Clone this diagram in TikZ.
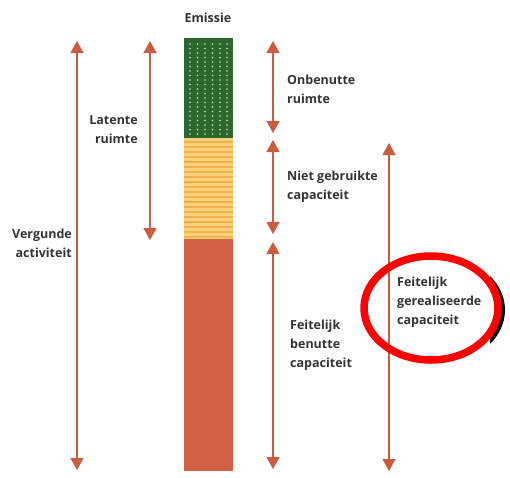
\documentclass[tikz,border=0pt]{standalone}
\usepackage{fontspec}
\setmainfont{Open Sans}
\usetikzlibrary{arrows.meta}
\definecolor{arrowred}{rgb}{0.80,0.36,0.25}
\definecolor{bargreen}{rgb}{0.18,0.40,0.19}
\definecolor{dotgreen}{rgb}{0.80,0.90,0.76}
\definecolor{baryellow}{rgb}{0.98,0.82,0.47}
\definecolor{stripeyellow}{rgb}{0.94,0.69,0.30}
\definecolor{barred}{rgb}{0.82,0.38,0.26}
\definecolor{textgray}{rgb}{0.20,0.20,0.20}
\tikzset{
    span/.style={draw=arrowred, line width=1.4pt,
        {Triangle[width=13pt,length=12pt]}-{Triangle[width=13pt,length=12pt]}},
    lbl/.style={font=\bfseries\fontsize{12.5}{19}\selectfont, text=textgray, inner sep=0pt},
}

\begin{document}
\begin{tikzpicture}[x=1pt,y=-1pt]
\useasboundingbox (0,0) rectangle (510,477);
%\draw[step=10,lightgray,very thin] (0,0) grid (510,477);
\node[lbl] (emissie) at (208,18) {Emissie};
% the bar
\fill[bargreen] (184,38) rectangle (233,138);
\foreach \x in {190,197.5,205,212.5,220,227}
  \foreach \y in {44,48.5,...,134}
    \fill[dotgreen] (\x,\y) circle (0.95);
\fill[baryellow] (184,138) rectangle (233,239);
\foreach \y in {141,146,...,237}
  \fill[stripeyellow] (184,\y) rectangle (233,\y+1.6);
\fill[barred] (184,239) rectangle (233,471);
% arrows
\coordinate (vtop) at (77,41);  \coordinate (vbot) at (77,470);
\coordinate (ltop) at (150,41); \coordinate (lbot) at (150,240);
\coordinate (otop) at (273,41); \coordinate (obot) at (273,133);
\coordinate (ntop) at (273,140); \coordinate (nbot) at (273,234);
\coordinate (btop) at (273,242); \coordinate (bbot) at (273,469);
\coordinate (gtop) at (389,143); \coordinate (gbot) at (389,471);
\draw[span] (vtop) -- (vbot);
\draw[span] (ltop) -- (lbot);
\draw[span] (otop) -- (obot);
\draw[span] (ntop) -- (nbot);
\draw[span] (btop) -- (bbot);
\draw[span] (gtop) -- (gbot);
% labels
\node[lbl, anchor=east, align=right] (vergund) at (72,243) {Vergunde\\activiteit};
\node[lbl, anchor=east, align=right] (latent) at (138,130) {Latente\\ruimte};
\node[lbl, anchor=west, align=left] (onbenut) at (287,89) {Onbenutte\\ruimte};
\node[lbl, anchor=west, align=left] (nietgebr) at (287,187) {Niet gebruikte\\capaciteit};
\node[lbl, anchor=west, align=left] (benut) at (290,345) {Feitelijk\\benutte\\capaciteit};
% circled label
\begin{scope}
\clip (490,240) rectangle (510,380);
\draw[black, line width=6pt] (435,310) ellipse (67 and 52);
\end{scope}
\draw[red, line width=7.5pt] (431,308) ellipse (67 and 52);
\node[lbl, anchor=west, align=left] (gereal) at (397,302) {Feitelijk\\gerealiseerde\\capaciteit};
\end{tikzpicture}
\end{document}
